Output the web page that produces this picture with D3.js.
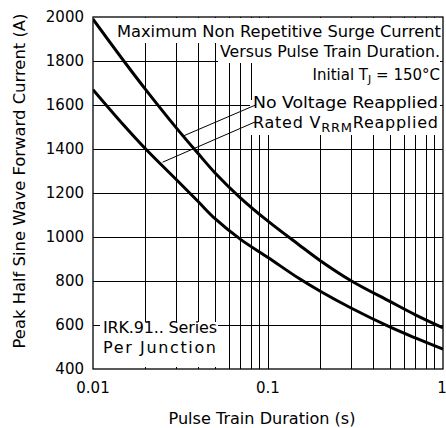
<!DOCTYPE html>
<html>
<head>
<meta charset="utf-8">
<script src="https://cdn.jsdelivr.net/npm/d3@7"></script>
<style>
  body { margin: 0; background: #fff; }
  text { font-family: "DejaVu Sans", sans-serif; fill: #000; }
</style>
</head>
<body>
<svg id="chart" width="446" height="428"></svg>
<script>
// pulse train duration (s)
const durations = [0.01, 0.015, 0.02, 0.03, 0.04, 0.05, 0.07, 0.1, 0.15, 0.2, 0.3, 0.5, 0.7, 1];
// peak current (A), no voltage reapplied
const noVoltage = [1990, 1800, 1670, 1495, 1378, 1290, 1176, 1072, 965, 891, 800, 706, 645, 587];
// peak current (A), rated VRRM reapplied
const ratedVrrm = [1670, 1508, 1400, 1260, 1160, 1082, 988, 907, 812, 752, 676, 590, 540, 490];

const xTicks = [0.01, 0.1, 1];
const xTickLabels = ['0.01', '0.1', '1'];
const xMinor = [0.02, 0.03, 0.04, 0.05, 0.06, 0.07, 0.08, 0.09, 0.2, 0.3, 0.4, 0.5, 0.6, 0.7, 0.8, 0.9];
const yTicks = [400, 600, 800, 1000, 1200, 1400, 1600, 1800, 2000];

const width = 446, height = 428;
const margin = { top: 17, right: 3, bottom: 59, left: 93 };
const innerW = width - margin.left - margin.right;
const innerH = height - margin.top - margin.bottom;

const svg = d3.select('#chart');
const g = svg.append('g').attr('transform', 'translate(' + margin.left + ',' + margin.top + ')');

const x = d3.scaleLog().domain([0.01, 1]).range([0, innerW]);
const y = d3.scaleLinear().domain([400, 2000]).range([innerH, 0]);

// grid
const grid = g.append('g').attr('shape-rendering', 'crispEdges').attr('stroke', '#000').attr('stroke-width', 1);
grid.selectAll('.vx')
  .data(xMinor.concat([0.1]))
  .enter().append('line')
  .attr('x1', d => x(d)).attr('x2', d => x(d))
  .attr('y1', 0).attr('y2', innerH);
grid.selectAll('.hy')
  .data(yTicks.slice(1, -1))
  .enter().append('line')
  .attr('x1', 0).attr('x2', innerW)
  .attr('y1', d => y(d)).attr('y2', d => y(d));

// white boxes behind the notes (they hide the grid)
const boxes = [
  [112 - 93, 18 - 17, 440 - 112, 25],
  [218 - 93, 43 - 17, 440 - 218, 20],
  [256 - 93, 63 - 17, 440 - 256, 72],
  [250 - 93, 100 - 17, 8, 35],
  [100 - 93, 322 - 17, 118, 45]
];
g.append('g').selectAll('rect')
  .data(boxes)
  .enter().append('rect')
  .attr('x', d => d[0]).attr('y', d => d[1])
  .attr('width', d => d[2]).attr('height', d => d[3])
  .attr('fill', '#fff');

// curves
svg.append('clipPath').attr('id', 'clip')
  .append('rect').attr('width', innerW).attr('height', innerH);

const line = d3.line()
  .x(d => x(d[0]))
  .y(d => y(d[1]))
  .curve(d3.curveCatmullRom.alpha(0.5));

const series = [noVoltage, ratedVrrm];
g.append('g').attr('clip-path', 'url(#clip)')
  .selectAll('path')
  .data(series)
  .enter().append('path')
  .attr('d', s => line(durations.map((t, i) => [t, s[i]])))
  .attr('fill', 'none')
  .attr('stroke', '#000')
  .attr('stroke-width', 3);

// leader lines from the labels to the curves
const leaders = [
  [[0.0855, 1601], [0.033, 1460]],
  [[0.0855, 1525], [0.025, 1340]]
];
g.selectAll('.leader')
  .data(leaders)
  .enter().append('line')
  .attr('x1', d => x(d[0][0])).attr('y1', d => y(d[0][1]))
  .attr('x2', d => x(d[1][0])).attr('y2', d => y(d[1][1]))
  .attr('stroke', '#000')
  .attr('stroke-width', 1);

// frame
g.append('rect')
  .attr('width', innerW).attr('height', innerH)
  .attr('fill', 'none').attr('stroke', '#000').attr('stroke-width', 1.3);

// tick labels
g.selectAll('.yt')
  .data(yTicks)
  .enter().append('text')
  .attr('x', -9).attr('y', d => y(d)).attr('dy', '0.36em')
  .attr('text-anchor', 'end')
  .style('font-size', '15px')
  .text(d => d);

g.selectAll('.xt')
  .data(xTicks)
  .enter().append('text')
  .attr('x', d => Math.min(x(d), innerW - 1))
  .attr('y', innerH + 24)
  .attr('text-anchor', 'middle')
  .style('font-size', '15px')
  .text((d, i) => xTickLabels[i]);

// axis titles
svg.append('text')
  .attr('transform', 'translate(25,' + (margin.top + innerH / 2 - 12) + ') rotate(-90)')
  .attr('text-anchor', 'middle')
  .attr('textLength', 335).attr('lengthAdjust', 'spacingAndGlyphs')
  .style('font-size', '15px')
  .text('Peak Half Sine Wave Forward Current (A)');

svg.append('text')
  .attr('x', 262).attr('y', 424)
  .attr('text-anchor', 'middle')
  .attr('textLength', 187).attr('lengthAdjust', 'spacingAndGlyphs')
  .style('font-size', '15px')
  .text('Pulse Train Duration (s)');

// notes
const notes = svg.append('g').style('font-size', '16px');
notes.append('text').attr('x', 441).attr('y', 37).attr('text-anchor', 'end')
  .attr('textLength', 324).attr('lengthAdjust', 'spacingAndGlyphs')
  .text('Maximum Non Repetitive Surge Current');
notes.append('text').attr('x', 440).attr('y', 57).attr('text-anchor', 'end')
  .attr('textLength', 220).attr('lengthAdjust', 'spacingAndGlyphs')
  .text('Versus Pulse Train Duration.');

const tj = notes.append('text').attr('x', 440).attr('y', 80).attr('text-anchor', 'end')
  .style('font-size', '15px');
tj.append('tspan').text('Initial T');
tj.append('tspan').attr('dy', 3).style('font-size', '11px').text('J');
tj.append('tspan').attr('dy', -3).text(' = 150°C');

notes.append('text').attr('x', 253).attr('y', 108)
  .attr('textLength', 185).attr('lengthAdjust', 'spacingAndGlyphs')
  .text('No Voltage Reapplied');
const rv = notes.append('text').attr('x', 253).attr('y', 128)
  .attr('textLength', 185).attr('lengthAdjust', 'spacing');
rv.append('tspan').text('Rated V');
rv.append('tspan').attr('dy', 4).style('font-size', '13px').text('RRM');
rv.append('tspan').attr('dy', -4).text('Reapplied');

notes.append('text').attr('x', 103).attr('y', 333)
  .attr('textLength', 114).attr('lengthAdjust', 'spacing')
  .text('IRK.91.. Series');
notes.append('text').attr('x', 103).attr('y', 353)
  .attr('textLength', 113).attr('lengthAdjust', 'spacing')
  .text('Per Junction');
</script>
</body>
</html>
